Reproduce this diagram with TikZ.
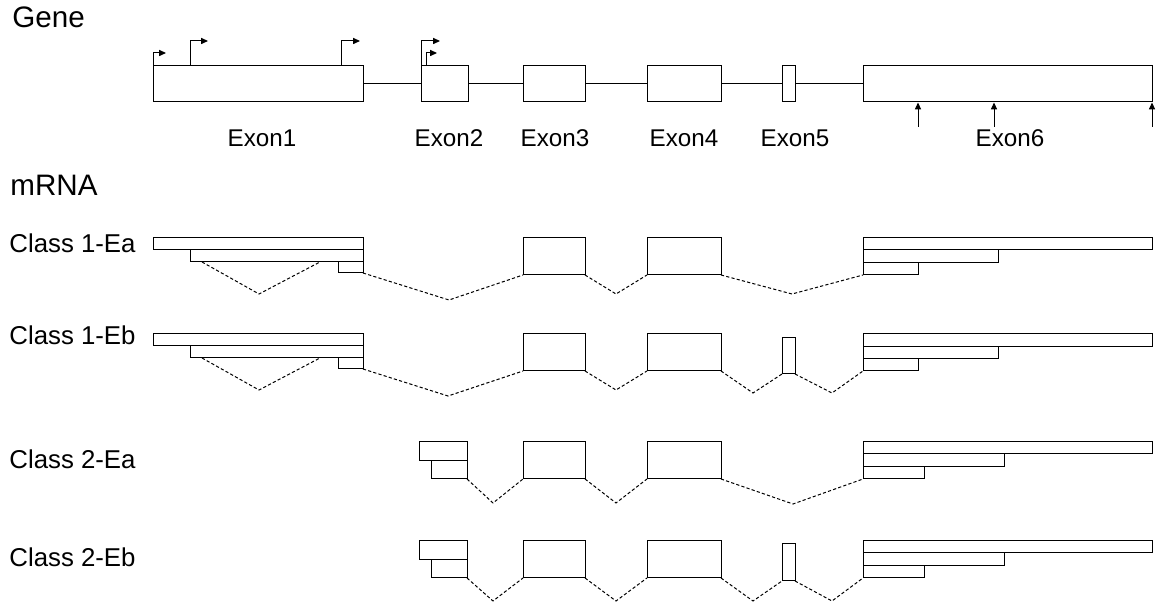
\documentclass[tikz,border=0pt]{standalone}
\usepackage{fontspec}
\setmainfont{Liberation Sans}
\usetikzlibrary{arrows.meta}
\tikzset{
  ebox/.style={draw=black, line width=0.5pt, fill=white, rectangle, inner sep=0pt, outer sep=0pt},
  intron/.style={draw=black, line width=0.5pt},
  splice/.style={draw=black, line width=0.5pt, dash pattern=on 1.6pt off 1.1pt},
  tss/.style={draw=black, line width=0.5pt, -{Triangle[length=3.4pt,width=3pt]}},
  pas/.style={draw=black, line width=0.5pt, -{Triangle[length=3.4pt,width=3pt]}},
  title/.style={anchor=base west, inner sep=0pt, font=\fontsize{14.8}{17}\selectfont},
  rowlabel/.style={anchor=base west, inner sep=0pt, font=\fontsize{12.9}{15}\selectfont},
  exlabel/.style={anchor=base, inner sep=0pt, font=\fontsize{12.1}{15}\selectfont},
}
\newcommand\bx[5]{\node[ebox, minimum width={(#4-#2)*0.5pt}, minimum height={(#5-#3)*0.5pt}] (#1) at ({(#2+#4)/2},{(#3+#5)/2}) {};}
\begin{document}
\begin{tikzpicture}[x=0.5pt, y=-0.5pt]
\useasboundingbox (0,0) rectangle (1157,603);

% ---------- Gene ----------
\node[title] (lgene) at (12,28) {Gene};
\bx{g1}{153}{66}{363}{102}
\bx{g2}{421}{66}{468}{102}
\bx{g3}{523}{66}{585}{102}
\bx{g4}{647}{66}{721}{102}
\bx{g5}{782}{66}{795}{102}
\bx{g6}{863}{66}{1152}{102}
\draw[intron] (g1.east) -- (g2.west);
\draw[intron] (g2.east) -- (g3.west);
\draw[intron] (g3.east) -- (g4.west);
\draw[intron] (g4.east) -- (g5.west);
\draw[intron] (g5.east) -- (g6.west);

% transcription start sites
\coordinate (t1a) at (153,66); \coordinate (t1b) at (166,53);
\coordinate (t2a) at (190,66); \coordinate (t2b) at (208,41);
\coordinate (t3a) at (341,66); \coordinate (t3b) at (360,41);
\coordinate (t4a) at (421,66); \coordinate (t4b) at (440,41);
\coordinate (t5a) at (426,66); \coordinate (t5b) at (437,53);
\draw[tss] (t1a) |- (t1b);
\draw[tss] (t2a) |- (t2b);
\draw[tss] (t3a) |- (t3b);
\draw[tss] (t4a) |- (t4b);
\draw[tss] (t5a) |- (t5b);

% polyadenylation sites
\coordinate (p1a) at (918,127); \coordinate (p1b) at (918,102.5);
\coordinate (p2a) at (994,127); \coordinate (p2b) at (994,102.5);
\coordinate (p3a) at (1152,127); \coordinate (p3b) at (1152,102.5);
\draw[pas] (p1a) -- (p1b);
\draw[pas] (p2a) -- (p2b);
\draw[pas] (p3a) -- (p3b);

\node[exlabel] (lx1) at (262,147) {Exon1};
\node[exlabel] (lx2) at (449,147) {Exon2};
\node[exlabel] (lx3) at (555,147) {Exon3};
\node[exlabel] (lx4) at (684,147) {Exon4};
\node[exlabel] (lx5) at (795,147) {Exon5};
\node[exlabel] (lx6) at (1010,147) {Exon6};

% ---------- mRNA ----------
\node[title] (lmrna) at (10,196) {mRNA};

% Class 1-Ea
\node[rowlabel] (lc1) at (9,253) {Class 1-Ea};
\bx{ra1}{153}{238}{363}{250}
\bx{ra2}{190}{250}{363}{262}
\bx{ra3}{338}{262}{363}{273}
\bx{ra4}{523}{238}{585}{275}
\bx{ra5}{647}{238}{721}{275}
\bx{ra6}{863}{238}{1152}{250}
\bx{ra7}{863}{250}{998}{263}
\bx{ra8}{863}{263}{918}{275}
\coordinate (ras) at (202,262); \coordinate (rav) at (259,294); \coordinate (rae) at (320,262);
\draw[splice] (ras) -- (rav) -- (rae);
\coordinate (rv1) at (449,300);
\draw[splice] (ra3.south east) -- (rv1) -- (ra4.south west);
\coordinate (rv2) at (616,294);
\draw[splice] (ra4.south east) -- (rv2) -- (ra5.south west);
\coordinate (rv3) at (792,294);
\draw[splice] (ra5.south east) -- (rv3) -- (ra8.south west);

% Class 1-Eb
\node[rowlabel] (lc2) at (9,345) {Class 1-Eb};
\bx{rb1}{153}{334}{363}{346}
\bx{rb2}{190}{346}{363}{358}
\bx{rb3}{338}{358}{363}{369}
\bx{rb4}{523}{334}{585}{371}
\bx{rb5}{647}{334}{721}{371}
\bx{rb9}{782}{338}{795}{374}
\bx{rb6}{863}{334}{1152}{347}
\bx{rb7}{863}{347}{998}{359}
\bx{rb8}{863}{359}{918}{371}
\coordinate (rbs) at (202,358); \coordinate (rbv) at (259,390); \coordinate (rbe) at (320,358);
\draw[splice] (rbs) -- (rbv) -- (rbe);
\coordinate (sv1) at (448,396);
\draw[splice] (rb3.south east) -- (sv1) -- (rb4.south west);
\coordinate (sv2) at (616,390);
\draw[splice] (rb4.south east) -- (sv2) -- (rb5.south west);
\coordinate (sv3) at (753,393);
\draw[splice] (rb5.south east) -- (sv3) -- (rb9.south west);
\coordinate (sv4) at (832,393);
\draw[splice] (rb9.south east) -- (sv4) -- (rb8.south west);

% Class 2-Ea
\node[rowlabel] (lc3) at (9,469) {Class 2-Ea};
\bx{rc1}{419}{442}{467}{461}
\bx{rc2}{431}{461}{467}{479}
\bx{rc4}{523}{442}{585}{479}
\bx{rc5}{647}{442}{721}{479}
\bx{rc6}{863}{442}{1152}{454}
\bx{rc7}{863}{454}{1004}{467}
\bx{rc8}{863}{467}{924}{479}
\coordinate (tv1) at (493,503);
\draw[splice] (rc2.south east) -- (tv1) -- (rc4.south west);
\coordinate (tv2) at (616,503);
\draw[splice] (rc4.south east) -- (tv2) -- (rc5.south west);
\coordinate (tv3) at (793,504);
\draw[splice] (rc5.south east) -- (tv3) -- (rc8.south west);

% Class 2-Eb
\node[rowlabel] (lc4) at (9,567) {Class 2-Eb};
\bx{rd1}{419}{541}{467}{560}
\bx{rd2}{431}{560}{467}{578}
\bx{rd4}{523}{541}{585}{578}
\bx{rd5}{647}{541}{721}{578}
\bx{rd9}{782}{544}{795}{581}
\bx{rd6}{863}{541}{1152}{553}
\bx{rd7}{863}{553}{1004}{566}
\bx{rd8}{863}{566}{924}{578}
\coordinate (uv1) at (493,601);
\draw[splice] (rd2.south east) -- (uv1) -- (rd4.south west);
\coordinate (uv2) at (616,601);
\draw[splice] (rd4.south east) -- (uv2) -- (rd5.south west);
\coordinate (uv3) at (753,601);
\draw[splice] (rd5.south east) -- (uv3) -- (rd9.south west);
\coordinate (uv4) at (832,601);
\draw[splice] (rd9.south east) -- (uv4) -- (rd8.south west);
\end{tikzpicture}
\end{document}
